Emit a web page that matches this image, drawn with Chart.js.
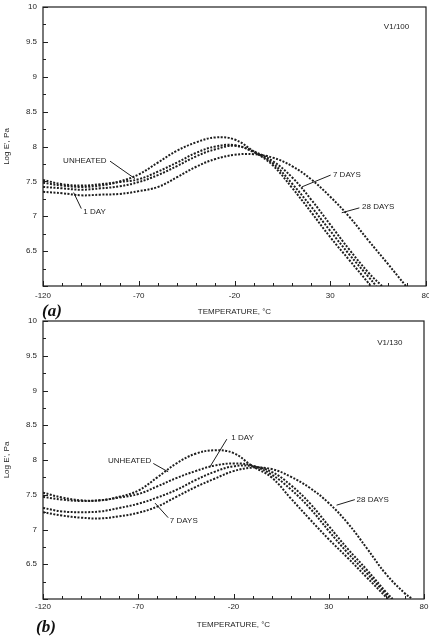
<!DOCTYPE html>
<html>
<head>
<meta charset="utf-8">
<script src="https://cdn.jsdelivr.net/npm/chart.js@4/dist/chart.umd.min.js"></script>
<style>
  body { margin: 0; background: #fff; width: 429px; height: 640px; position: relative; overflow: hidden; }
  canvas { position: absolute; left: 0; }
  #chartA { top: 0; }
  #chartB { top: 314px; }
  .tag { position: absolute; font-family: "Liberation Serif", "DejaVu Serif", serif; font-style: italic; font-weight: bold; font-size: 17px; color: #111; }
</style>
</head>
<body>
<canvas id="chartA" width="429" height="318"></canvas>
<canvas id="chartB" width="429" height="326"></canvas>
<div class="tag" style="left:42px; top:301px;">(a)</div>
<div class="tag" style="left:36px; top:617px;">(b)</div>
<script>
// temperatures (°C) where the curves are read
const temps = [-120, -110, -100, -90, -80, -70, -60, -50, -40, -30, -20, -10, 0, 10, 20, 30, 40, 50, 60, 70];
const seriesNames = ['UNHEATED', '1 DAY', '7 DAYS', '28 DAYS'];
const xTicks = [-120, -70, -20, 30, 80];

// (a) V1/100  log E'
const a_unheated = [7.52, 7.46, 7.44, 7.46, 7.50, 7.60, 7.77, 7.94, 8.06, 8.13, 8.10, 7.93, 7.73, 7.41, 7.06, 6.70, 6.37, 6.04];
const a_1day     = [7.48, 7.44, 7.42, 7.44, 7.49, 7.53, 7.64, 7.77, 7.91, 8.00, 8.02, 7.92, 7.76, 7.47, 7.14, 6.79, 6.45, 6.13];
const a_7days    = [7.42, 7.40, 7.38, 7.40, 7.43, 7.49, 7.59, 7.72, 7.86, 7.96, 8.01, 7.93, 7.79, 7.56, 7.24, 6.88, 6.52, 6.19];
const a_28days   = [7.35, 7.33, 7.30, 7.31, 7.32, 7.36, 7.42, 7.56, 7.71, 7.82, 7.88, 7.89, 7.84, 7.72, 7.53, 7.28, 6.99, 6.65, 6.32];
// temperature where each curve reaches log E' = 6
const a_ends = [51, 54, 57, 69.5];

// (b) V1/130  log E'
const b_unheated = [7.53, 7.46, 7.42, 7.42, 7.47, 7.56, 7.75, 7.95, 8.09, 8.14, 8.10, 7.91, 7.75, 7.45, 7.15, 6.86, 6.59, 6.31, 6.03];
const b_1day     = [7.47, 7.43, 7.41, 7.42, 7.46, 7.51, 7.62, 7.74, 7.84, 7.92, 7.95, 7.92, 7.79, 7.58, 7.31, 6.98, 6.66, 6.37, 6.07];
const b_7days    = [7.31, 7.26, 7.25, 7.26, 7.31, 7.37, 7.46, 7.57, 7.71, 7.83, 7.91, 7.91, 7.83, 7.64, 7.38, 7.05, 6.72, 6.42, 6.10];
const b_28days   = [7.25, 7.20, 7.17, 7.16, 7.19, 7.24, 7.33, 7.47, 7.61, 7.73, 7.84, 7.89, 7.87, 7.76, 7.60, 7.38, 7.09, 6.73, 6.36, 6.08];
const b_ends = [61, 62.5, 63.5, 74];

const ink = '#1e1e1e';
const smallFont = { family: '"Liberation Sans", Arial, sans-serif', size: 8 };

function toPoints(vals, end) {
  const pts = vals.map((v, i) => ({ x: temps[i], y: v }));
  pts.push({ x: end, y: 6 });
  return pts;
}

// frame, inward ticks and labelled leaders
const framePlugin = {
  id: 'frame',
  afterDraw(chart, args, opts) {
    const { ctx, chartArea: a, scales: { x, y } } = chart;
    ctx.save();
    ctx.strokeStyle = ink;
    ctx.lineWidth = 1.2;
    ctx.strokeRect(a.left, a.top, a.right - a.left, a.bottom - a.top);
    ctx.lineWidth = 1;
    for (let i = 0; i <= 16; i++) {
      const v = 6 + i * 0.25;
      const py = Math.round(y.getPixelForValue(v)) + 0.5;
      ctx.beginPath();
      ctx.moveTo(a.left, py);
      ctx.lineTo(a.left + (i % 2 === 0 ? 5 : 3), py);
      ctx.stroke();
    }
    for (let t = -120; t <= 80; t += 10) {
      const px = Math.round(x.getPixelForValue(t)) + 0.5;
      ctx.beginPath();
      ctx.moveTo(px, a.bottom);
      ctx.lineTo(px, a.bottom - ((t + 120) % 50 === 0 ? 5 : 3));
      ctx.stroke();
    }
    ctx.fillStyle = ink;
    ctx.font = '8px "Liberation Sans", Arial, sans-serif';
    ctx.textAlign = 'left';
    ctx.textBaseline = 'middle';
    (opts.notes || []).forEach(n => {
      ctx.fillText(n.text, x.getPixelForValue(n.at[0]), y.getPixelForValue(n.at[1]));
      if (n.from) {
        ctx.beginPath();
        ctx.moveTo(x.getPixelForValue(n.from[0]), y.getPixelForValue(n.from[1]));
        ctx.lineTo(x.getPixelForValue(n.to[0]), y.getPixelForValue(n.to[1]));
        ctx.stroke();
      }
    });
    ctx.restore();
  }
};

function noPad(s) {
  s.paddingLeft = 0; s.paddingRight = 0; s.paddingTop = 0; s.paddingBottom = 0;
}

function makeChart(id, series, ends, notes, rightPad, axisH, tickPad, titlePad) {
  new Chart(document.getElementById(id), {
    type: 'line',
    data: {
      datasets: series.map((vals, i) => ({
        label: seriesNames[i],
        data: toPoints(vals, ends[i]),
        borderColor: ink,
        borderWidth: 2,
        borderDash: [2, 1.5],
        pointRadius: 0,
        tension: 0.4,
        fill: false
      }))
    },
    options: {
      responsive: false,
      animation: false,
      layout: { padding: { top: 7, right: rightPad, left: 0, bottom: 0 } },
      plugins: { legend: { display: false }, tooltip: { enabled: false }, frame: { notes } },
      scales: {
        x: {
          type: 'linear', min: -120, max: 80,
          afterBuildTicks: s => { s.ticks = xTicks.map(v => ({ value: v })); },
          afterFit: s => { s.height = axisH; noPad(s); },
          grid: { display: false, drawTicks: false },
          border: { display: false },
          ticks: { padding: tickPad, font: smallFont, color: ink, maxRotation: 0 },
          title: { display: true, text: 'TEMPERATURE, °C', font: smallFont, color: ink, padding: { top: 0, bottom: titlePad } }
        },
        y: {
          min: 6, max: 10,
          afterFit: s => { s.width = 43; noPad(s); },
          grid: { display: false, drawTicks: false },
          border: { display: false },
          ticks: { stepSize: 0.5, padding: 6, font: smallFont, color: ink, callback: v => v === 6 ? '' : v },
          title: { display: true, text: "Log E', Pa", font: smallFont, color: ink, padding: { top: 2, bottom: 0 } }
        }
      }
    },
    plugins: [framePlugin]
  });
}

const notesA = [
  { text: 'V1/100', at: [58, 9.71] },
  { text: 'UNHEATED', at: [-109.5, 7.80], from: [-85, 7.79], to: [-72, 7.54] },
  { text: '1 DAY', at: [-99, 7.07], from: [-100, 7.11], to: [-104, 7.34] },
  { text: '7 DAYS', at: [31.4, 7.60], from: [30.2, 7.59], to: [15.1, 7.42] },
  { text: '28 DAYS', at: [46.6, 7.14], from: [45.2, 7.12], to: [36, 7.05] }
];
const notesB = [
  { text: 'V1/130', at: [55.4, 9.68] },
  { text: 'UNHEATED', at: [-85.9, 7.99], from: [-62.1, 7.95], to: [-54.3, 7.83] },
  { text: '7 DAYS', at: [-53.4, 7.12], from: [-54.3, 7.17], to: [-61.2, 7.38] },
  { text: '1 DAY', at: [-21.2, 8.32], from: [-23.5, 8.30], to: [-32.4, 7.90] },
  { text: '28 DAYS', at: [44.6, 7.43], from: [43.7, 7.43], to: [34.1, 7.35] }
];

makeChart('chartA', [a_unheated, a_1day, a_7days, a_28days], a_ends, notesA, 3, 32, 5, 1);
makeChart('chartB', [b_unheated, b_1day, b_7days, b_28days], b_ends, notesB, 5, 41, 3, 10);
</script>
</body>
</html>
